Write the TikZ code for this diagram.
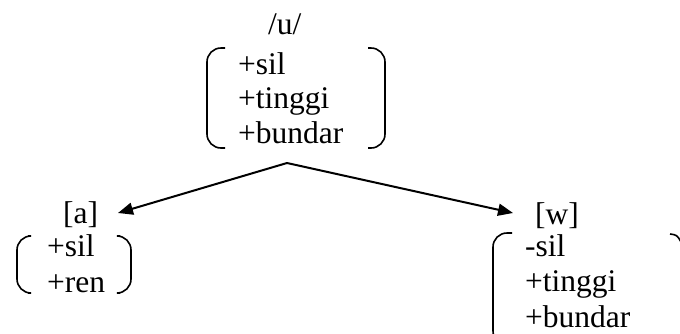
\documentclass[tikz,border=0pt]{standalone}
\usepackage{fontspec}
\setmainfont{Liberation Serif}
\usetikzlibrary{arrows.meta}
\tikzset{
  lbl/.style={anchor=base west, inner sep=0pt, font=\fontsize{31.5}{36}\selectfont},
  brk/.style={line width=1.6pt, rounded corners=14pt},
  arr/.style={line width=2pt, -{Triangle[length=15pt,width=12pt]}}
}
\begin{document}
\begin{tikzpicture}[x=1pt,y=-1pt]
\useasboundingbox (0,0) rectangle (680,333);
% top block
\node[lbl] (u) at (268,34) {/u/};
\node[lbl] (u1) at (238,74) {+sil};
\node[lbl] (u2) at (238,108) {+tinggi};
\node[lbl] (u3) at (238,143) {+bundar};
\draw[brk] (225,48) -- (207,48) -- (207,148) -- (225,148);
\draw[brk] (368,48) -- (385,48) -- (385,148) -- (368,148);
% left block
\node[lbl] (a) at (63,223) {[a]};
\node[lbl] (a1) at (47,256) {+sil};
\node[lbl] (a2) at (47,292) {+ren};
\draw[brk] (28,236) -- (17,236) -- (17,293) -- (28,293);
\draw[brk] (120,236) -- (131,236) -- (131,293) -- (120,293);
% right block
\node[lbl] (w) at (535,224) {[w]};
\node[lbl] (w1) at (525,256) {-sil};
\node[lbl] (w2) at (525,291) {+tinggi};
\node[lbl] (w3) at (525,327) {+bundar};
\begin{scope}
\clip (0,0) rectangle (680,333);
\draw[brk] (512,233) -- (493,233) -- (493,345) -- (512,345);
\draw[line width=1.6pt] (670,234) .. controls (677,235) .. (681,242);
\end{scope}
% arrows
\coordinate (apex) at (287,163);
\coordinate (ta) at (118,213);
\coordinate (tw) at (513,213);
\draw[arr] (apex) -- (ta);
\draw[arr] (apex) -- (tw);
\end{tikzpicture}
\end{document}
